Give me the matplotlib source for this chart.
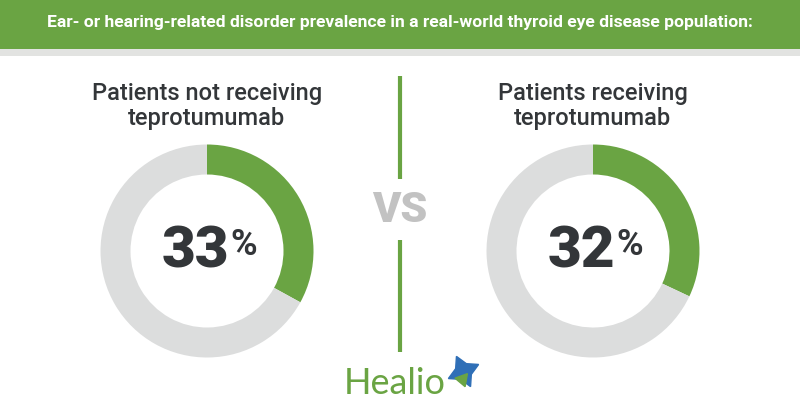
import matplotlib
matplotlib.use("Agg")
import matplotlib.pyplot as plt
from matplotlib.patches import Rectangle

title = "Ear- or hearing-related disorder prevalence in a real-world thyroid eye disease population:"
groups = ["Patients not receiving\nteprotumumab", "Patients receiving\nteprotumumab"]
prevalence = [33, 32]

GREEN = "#6aa443"
GRAY = "#dcdddd"
DARK = "#333639"

W, H = 800, 420
fig = plt.figure(figsize=(8, 4.2), dpi=100)
ax = fig.add_axes([0, 0, 1, 1])

def Y(y):
    return H - y

# header band
ax.add_patch(Rectangle((0, Y(49)), W, 49, color=GREEN, lw=0, zorder=1))
ax.add_patch(Rectangle((0, Y(56)), W, 7, color="#e2e3e1", lw=0, zorder=1))
ax.text(400, Y(23), title, color="white", fontsize=12.6, fontweight="bold",
        family="Roboto", ha="center", va="center", zorder=2)

centers = [207, 593]
for cx, lab, val in zip(centers, groups, prevalence):
    ax.pie([val, 100 - val], colors=[GREEN, GRAY], startangle=90, counterclock=False,
           center=(cx, Y(251)), radius=106.5, wedgeprops=dict(width=30, linewidth=0),
           frame=True)
    ax.text(cx, Y(106), lab, ha="center", va="center", fontsize=17, color=DARK,
            family="Roboto", fontweight="medium", linespacing=1.15)
    ax.text(cx + 22, Y(252), f"{val}", ha="right", va="center", fontsize=42,
            color=DARK, family="Roboto", fontweight="heavy")
    ax.text(cx + 23, Y(227), "%", ha="left", va="top", fontsize=26,
            color=DARK, family="Roboto", fontweight="bold")

# divider and VS
ax.plot([400, 400], [Y(76), Y(179)], color=GREEN, lw=3, solid_capstyle="butt")
ax.plot([400, 400], [Y(240), Y(352)], color=GREEN, lw=3, solid_capstyle="butt")
ax.text(400, Y(210), "VS", ha="center", va="center", fontsize=31, color="#c2c2c2",
        family="Roboto", fontweight="heavy")

# Healio logo
ax.text(344, Y(383), "Healio", ha="left", va="center", fontsize=26, color=GREEN,
        family="Lato", fontweight="normal")
ax.plot([463], [Y(371)], marker=(4, 1, 25), markersize=24, color="#2f6fb7", lw=0)
ax.plot([462], [Y(379)], marker=(3, 1, 200), markersize=11, color=GREEN, lw=0)

ax.set_xlim(0, W)
ax.set_ylim(0, H)
ax.set_aspect("equal")
ax.axis("off")
fig.savefig("out.png", dpi=100, facecolor="white")
